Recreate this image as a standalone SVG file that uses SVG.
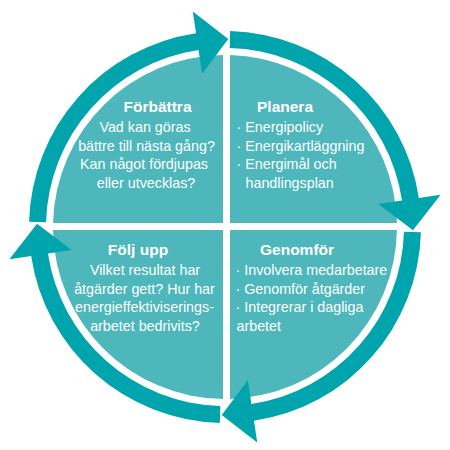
<svg xmlns="http://www.w3.org/2000/svg" xmlns:xlink="http://www.w3.org/1999/xlink" width="450" height="450" viewBox="0 0 450 450">
  <style>
    .quad { fill: #4DB7BC; }
    .arrow { fill: #00A4AD; }
    text { font-family: "Liberation Sans", Arial, sans-serif; fill: #FFFFFF; }
    .title { font-size: 15.5px; font-weight: bold; }
    .body { font-size: 14.3px; }
  </style>
  <defs>
    <path id="arrowShape" class="arrow" d="M420.93,232.13 A196,196 0 0 1 253.97,420.85 L257.22,442.61 L221.72,414.97 L247.91,380.30 L251.46,404.03 A179,179 0 0 0 403.94,231.69 Z"/>
  </defs>
  <rect width="450" height="450" fill="#FFFFFF"/>

  <g id="forbattra">
    <path class="quad" d="M223,223 L223,55.01 A172,172 0 0 0 53.05,223 Z"/>
    <text class="title" x="157.5" y="112" text-anchor="middle">Förbättra</text>
    <text class="body" text-anchor="middle">
      <tspan x="147" y="132">Vad kan göras</tspan>
      <tspan x="148.5" y="150.5">bättre till nästa gång?</tspan>
      <tspan x="146" y="169">Kan något fördjupas</tspan>
      <tspan x="146" y="187.5">eller utvecklas?</tspan>
    </text>
  </g>

  <g id="planera">
    <path class="quad" d="M230,223 L230,55.07 A172,172 0 0 1 396.95,223 Z"/>
    <text class="title" x="257" y="112">Planera</text>
    <text class="body">
      <tspan x="236.5" y="132">· Energipolicy</tspan>
      <tspan x="236.5" y="150.5">· Energikartläggning</tspan>
      <tspan x="236.5" y="169">· Energimål och</tspan>
      <tspan x="245.5" y="187.5">handlingsplan</tspan>
    </text>
  </g>

  <g id="genomfor">
    <path class="quad" d="M230,230 L396.97,230 A172,172 0 0 1 230,398.93 Z"/>
    <text class="title" x="260" y="255">Genomför</text>
    <text class="body">
      <tspan x="235.5" y="275">· Involvera medarbetare</tspan>
      <tspan x="235.5" y="293.5">· Genomför åtgärder</tspan>
      <tspan x="235.5" y="312">· Integrerar i dagliga</tspan>
      <tspan x="236.5" y="330.5">arbetet</tspan>
    </text>
  </g>

  <g id="folj-upp">
    <path class="quad" d="M223,230 L223,398.99 A172,172 0 0 1 53.03,230 Z"/>
    <text class="title" x="138" y="255" text-anchor="middle">Följ upp</text>
    <text class="body" text-anchor="middle">
      <tspan x="147" y="275">Vilket resultat har</tspan>
      <tspan x="146.5" y="293.5">åtgärder gett? Hur har</tspan>
      <tspan x="146.5" y="312">energieffektiviserings-</tspan>
      <tspan x="145" y="330.5">arbetet bedrivits?</tspan>
    </text>
  </g>

  <g id="connectors">
    <use xlink:href="#arrowShape" href="#arrowShape"/>
    <use xlink:href="#arrowShape" href="#arrowShape" transform="rotate(90 225 227)"/>
    <use xlink:href="#arrowShape" href="#arrowShape" transform="rotate(180 225 227)"/>
    <use xlink:href="#arrowShape" href="#arrowShape" transform="rotate(270 225 227)"/>
  </g>
</svg>
